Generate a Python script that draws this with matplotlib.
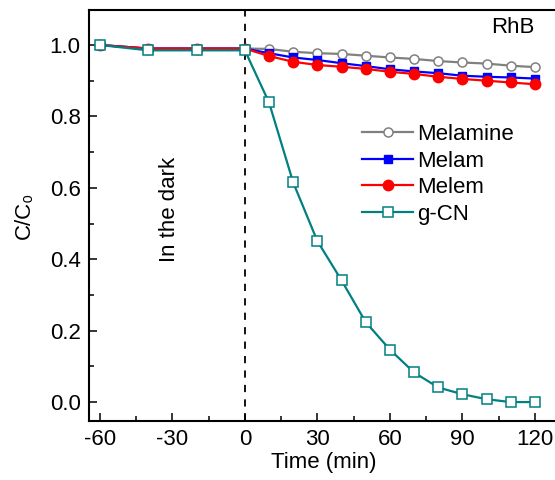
import matplotlib
matplotlib.use("Agg")
import matplotlib.pyplot as plt
from matplotlib.ticker import MultipleLocator

plt.rcParams["font.family"] = ["Liberation Sans", "DejaVu Sans"]
plt.rcParams["axes.unicode_minus"] = False

time = [-60, -40, -20, 0, 10, 20, 30, 40, 50, 60, 70, 80, 90, 100, 110, 120]
melamine = [1.0, 0.99, 0.99, 0.99, 0.989, 0.981, 0.977, 0.975, 0.970, 0.965,
            0.961, 0.955, 0.951, 0.948, 0.942, 0.938]
melam = [1.0, 0.99, 0.99, 0.99, 0.977, 0.965, 0.958, 0.949, 0.941, 0.932,
         0.926, 0.921, 0.914, 0.911, 0.909, 0.906]
melem = [1.0, 0.99, 0.99, 0.99, 0.969, 0.953, 0.944, 0.939, 0.933, 0.925,
         0.919, 0.911, 0.905, 0.900, 0.895, 0.890]
gcn = [1.0, 0.985, 0.985, 0.985, 0.839, 0.615, 0.451, 0.341, 0.224, 0.147,
       0.083, 0.041, 0.022, 0.008, 0.0, 0.0]

fig = plt.figure(figsize=(5.55, 4.8), dpi=100)
ax = fig.add_axes([89 / 555, 59 / 480, 470 / 555, 411 / 480])

ax.plot(time, melamine, color="#808080", lw=1.6, marker="o", ms=6.5,
        mfc="white", mec="#808080", mew=1.1, label="Melamine")
ax.plot(time, melam, color="#0000FF", lw=1.6, marker="s", ms=6,
        mfc="#0000FF", mec="#0000FF", label="Melam")
ax.plot(time, melem, color="#FF0000", lw=1.6, marker="o", ms=7.5,
        mfc="#FF0000", mec="#FF0000", label="Melem")
ax.plot(time, gcn, color="#008080", lw=1.6, marker="s", ms=6.5,
        mfc="white", mec="#008080", mew=1.1, label="g-CN")

ax.axvline(0, color="black", ls=(0, (4, 4)), lw=1.3, zorder=0)

ax.set_xlim(-64.5, 130)
ax.set_ylim(-0.053, 1.098)
ax.xaxis.set_major_locator(MultipleLocator(30))
ax.xaxis.set_minor_locator(MultipleLocator(15))
ax.yaxis.set_major_locator(MultipleLocator(0.2))
ax.yaxis.set_minor_locator(MultipleLocator(0.1))
ax.yaxis.set_major_formatter(plt.FormatStrFormatter("%.1f"))
ax.tick_params(which="both", direction="in", labelsize=16, width=1.1)
ax.tick_params(which="major", length=6, pad=6)
ax.tick_params(which="minor", length=3.5)
for spine in ax.spines.values():
    spine.set_linewidth(1.5)

ax.set_xlabel("Time (min)", fontsize=16, labelpad=1)
ax.set_ylabel("C/C₀", fontsize=16, labelpad=11)

ax.text(-31, 0.54, "In the dark", rotation=90, fontsize=16,
        ha="center", va="center")
ax.text(111, 1.05, "RhB", fontsize=16, ha="center", va="center")

ax.legend(loc="upper left", bbox_to_anchor=(362 / 555, 1 - 124 / 480),
          bbox_transform=fig.transFigure, frameon=False,
          fontsize=16, handlelength=2.3, handletextpad=0.2,
          labelspacing=0.25, borderaxespad=0, borderpad=0)

fig.savefig("out.png", dpi=100)
